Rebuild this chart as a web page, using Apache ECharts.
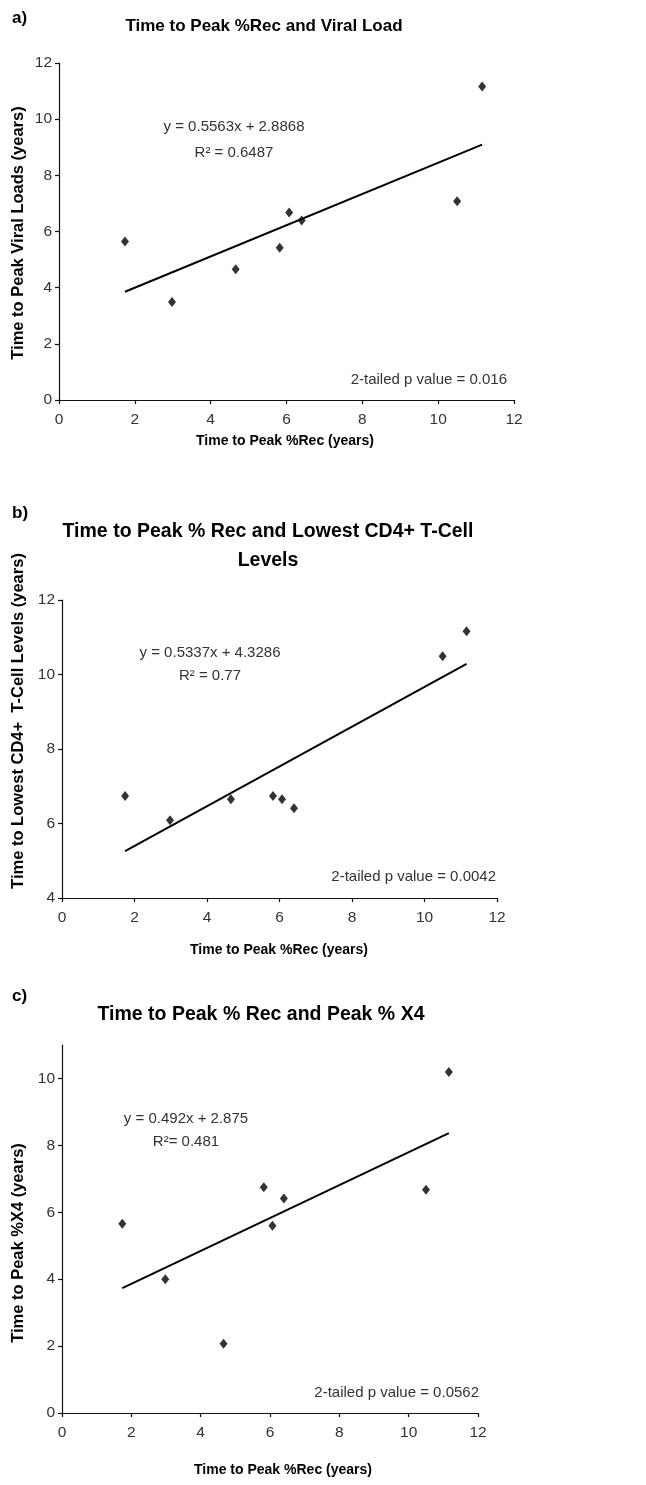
<!DOCTYPE html>
<html>
<head>
<meta charset="utf-8">
<script src="https://cdn.jsdelivr.net/npm/echarts@6/dist/echarts.min.js"></script>
<style>
  html, body { margin: 0; padding: 0; background: #fff; }
  #chart { width: 646px; height: 1485px; }
</style>
</head>
<body>
<div id="chart"></div>
<script>
// ---- Data ----
const recTime = [1.74, 2.98, 4.66, 5.82, 6.07, 6.40, 10.50, 11.16];
const viralLoadTime = [5.64, 3.49, 4.66, 5.42, 6.68, 6.39, 7.08, 11.16];
const cd4Time = [6.74, 6.09, 6.65, 6.74, 6.65, 6.41, 10.49, 11.16];
const x4Time = [5.66, 4.00, 2.07, 6.75, 5.60, 6.41, 6.67, 10.19];
const slopes = [0.5563, 0.5337, 0.492];
const intercepts = [2.8868, 4.3286, 2.875];
const panelTitles = ['Time to Peak %Rec and Viral Load', 'Time to Peak % Rec and Lowest CD4+ T-Cell\nLevels', 'Time to Peak % Rec and Peak % X4'];
const panelLetters = ['a)', 'b)', 'c)'];
const xNames = ['Time to Peak %Rec (years)', 'Time to Peak %Rec (years)', 'Time to Peak %Rec (years)'];
const yNames = ['Time to Peak Viral Loads (years)', 'Time to Lowest CD4+  T-Cell Levels (years)', 'Time to Peak %X4 (years)'];
const eqTexts = ['y = 0.5563x + 2.8868', 'y = 0.5337x + 4.3286', 'y = 0.492x + 2.875'];
const r2Texts = ['R\u00B2 = 0.6487', 'R\u00B2 = 0.77', 'R\u00B2= 0.481'];
const pTexts = ['2-tailed p value = 0.016', '2-tailed p value = 0.0042', '2-tailed p value = 0.0562'];
const yTicksC = [0, 2, 4, 6, 8, 10];

const FONT = "'Liberation Sans', Arial, Helvetica, sans-serif";
const ys = [viralLoadTime, cd4Time, x4Time];

const grids = [
  { left: 59, top: 63, width: 455, height: 337 },
  { left: 62, top: 600, width: 435, height: 298 },
  { left: 62, top: 1045, width: 416, height: 368 }
];
const yRanges = [[0, 12], [4, 12], [0, 11]];

function axisCommon() {
  return {
    axisLine: { show: true, lineStyle: { color: '#111', width: 1.2 } },
    axisTick: { show: true, inside: false, length: 4, lineStyle: { color: '#111', width: 1.2 } },
    splitLine: { show: false }
  };
}

const xAxes = grids.map((g, i) => Object.assign(axisCommon(), {
  type: 'value', gridIndex: i, min: 0, max: 12, interval: 2,
  axisLabel: { color: '#333', fontSize: 15.5, fontFamily: FONT, margin: 12 }
}));
const yAxes = grids.map((g, i) => {
  const a = Object.assign(axisCommon(), {
    type: 'value', gridIndex: i, min: yRanges[i][0], max: yRanges[i][1], interval: 2,
    axisLabel: { color: '#333', fontSize: 15.5, fontFamily: FONT, margin: 7 }
  });
  if (i === 2) {
    a.axisLabel.customValues = yTicksC;
    a.axisTick.customValues = yTicksC;
  }
  return a;
});

const series = [];
ys.forEach((yv, i) => {
  series.push({
    type: 'scatter', xAxisIndex: i, yAxisIndex: i,
    symbol: 'diamond', symbolSize: [8, 10],
    itemStyle: { color: '#000' },
    data: recTime.map((x, k) => [x, yv[k]]),
    z: 3
  });
  const xmin = Math.min(...recTime), xmax = Math.max(...recTime);
  series.push({
    type: 'line', xAxisIndex: i, yAxisIndex: i,
    showSymbol: false, symbol: 'none',
    lineStyle: { color: '#000', width: 2 },
    data: [[xmin, slopes[i] * xmin + intercepts[i]], [xmax, slopes[i] * xmax + intercepts[i]]],
    z: 2
  });
});

function txt(text, x, y, opts) {
  return Object.assign({
    type: 'text', x: x, y: y,
    style: Object.assign({ text: text, fontFamily: FONT, fill: '#000', align: 'center', verticalAlign: 'middle' }, opts.style || {})
  }, opts.rotation !== undefined ? { rotation: opts.rotation } : {});
}

const graphics = [];
// panel letters
[[12, 18], [12, 513], [12, 996]].forEach((p, i) => {
  graphics.push(txt(panelLetters[i], p[0], p[1], { style: { align: 'left', fontSize: 17, fontWeight: 'bold' } }));
});
// titles
graphics.push(txt(panelTitles[0], 264, 26, { style: { fontSize: 17, fontWeight: 'bold' } }));
graphics.push(txt(panelTitles[1], 268, 546, { style: { fontSize: 19.5, fontWeight: 'bold', lineHeight: 29 } }));
graphics.push(txt(panelTitles[2], 261, 1015, { style: { fontSize: 19.5, fontWeight: 'bold' } }));
// y axis names
[[18, 233], [18, 721], [18, 1243]].forEach((p, i) => {
  graphics.push(txt(yNames[i], p[0], p[1], { rotation: Math.PI / 2, style: { fontSize: 16.5, fontWeight: 'bold' } }));
});
// x axis names
[[285, 441], [279, 950], [283, 1470]].forEach((p, i) => {
  graphics.push(txt(xNames[i], p[0], p[1], { style: { fontSize: 14, fontWeight: 'bold' } }));
});
// equations
[[234, 127, 153], [210, 653, 676], [186, 1119, 1142]].forEach((p, i) => {
  graphics.push(txt(eqTexts[i], p[0], p[1], { style: { fontSize: 15, fill: '#333' } }));
  graphics.push(txt(r2Texts[i], p[0], p[2], { style: { fontSize: 15, fill: '#333' } }));
});
// p values
[[507, 380], [496, 877], [479, 1393]].forEach((p, i) => {
  graphics.push(txt(pTexts[i], p[0], p[1], { style: { fontSize: 15, fill: '#333', align: 'right' } }));
});

const chart = echarts.init(document.getElementById('chart'), null, { renderer: 'canvas' });
chart.setOption({
  backgroundColor: '#fff',
  animation: false,
  grid: grids,
  xAxis: xAxes,
  yAxis: yAxes,
  series: series,
  graphic: graphics
});
</script>
</body>
</html>
